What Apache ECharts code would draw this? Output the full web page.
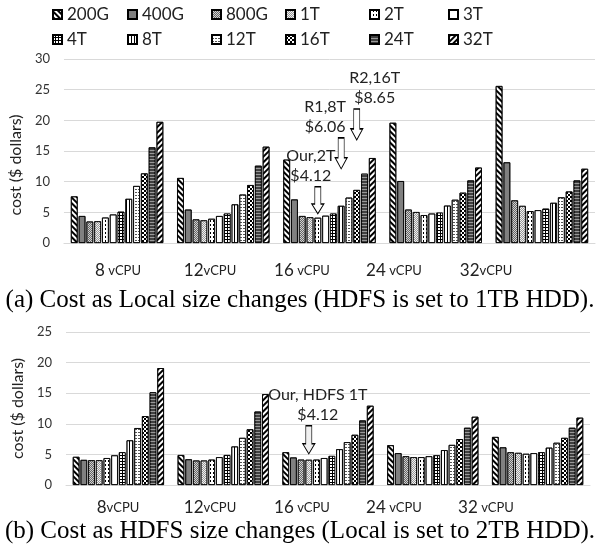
<!DOCTYPE html>
<html>
<head>
<meta charset="utf-8">
<script src="https://cdn.jsdelivr.net/npm/echarts@6/dist/echarts.min.js"></script>
<style>
  html, body { margin: 0; padding: 0; background: #fff; }
  #chart { width: 600px; height: 556px; }
</style>
</head>
<body>
<div id="chart"></div>
<script>
// 数据
var sizes = ['200G', '400G', '800G', '1T', '2T', '3T', '4T', '8T', '12T', '16T', '24T', '32T']
var categories = ['8', '12', '16', '24', '32']
var labelsA = ['8 vCPU', '12vCPU', '16 vCPU', '24 vCPU', '32vCPU']
var labelsB = ['8vCPU', '12vCPU', '16 vCPU', '24 vCPU', '32 vCPU']

// (a) Local size changes, one array per vCPU group, in the order of sizes
var local8 = [7.6, 4.4, 3.5, 3.55, 4.15, 4.65, 5.1, 7.2, 9.3, 11.35, 15.6, 19.75]
var local12 = [10.6, 5.45, 3.85, 3.7, 3.95, 4.4, 4.8, 6.3, 7.9, 9.45, 12.6, 15.7]
var local16 = [13.6, 7.1, 4.4, 4.2, 4.12, 4.45, 4.8, 6.06, 7.4, 8.65, 11.3, 13.85]
var local24 = [19.6, 10.1, 5.45, 5.05, 4.55, 4.8, 4.95, 6.1, 7.05, 8.2, 10.2, 12.3]
var local32 = [25.6, 13.15, 6.95, 6.05, 5.2, 5.35, 5.6, 6.55, 7.45, 8.4, 10.2, 12.1]

// (b) HDFS size changes
var hdfs8 = [4.6, 4.1, 4.05, 4.05, 4.4, 4.85, 5.35, 7.3, 9.3, 11.25, 15.15, 19.1]
var hdfs12 = [4.9, 4.2, 4.0, 4.0, 4.15, 4.55, 4.9, 6.3, 7.7, 9.1, 12.0, 14.85]
var hdfs16 = [5.35, 4.5, 4.15, 4.12, 4.15, 4.4, 4.75, 5.85, 7.0, 8.2, 10.55, 12.95]
var hdfs24 = [6.5, 5.2, 4.7, 4.55, 4.55, 4.7, 4.85, 5.7, 6.55, 7.5, 9.35, 11.15]
var hdfs32 = [7.85, 6.15, 5.35, 5.25, 5.1, 5.2, 5.35, 6.1, 6.9, 7.7, 9.35, 11.0]

var localTicks = [0, 30, 5]
var hdfsTicks = [0, 25, 5]

// 标注: size, group index, value, text
var notesA = [
  { size: '2T', group: 2, value: 4.12, text: 'Our,2T\n$4.12' },
  { size: '8T', group: 2, value: 6.06, text: 'R1,8T\n$6.06' },
  { size: '16T', group: 2, value: 8.65, text: 'R2,16T\n$8.65' },
]
var notesB = [
  { size: '1T', group: 2, value: 4.12, text: 'Our, HDFS 1T\n$4.12' },
]

// 样式 (patterns)
var FONT = 'Lato'
var patterns = {
  '200G': { color: '#fff', decal: { color: '#000', dashArrayX: [1, 0], dashArrayY: [1.5, 1.5], rotation: Math.PI / 4 } },
  '400G': { color: '#808080', decal: null },
  '800G': { color: '#d0d0d0', decal: { color: '#666', symbolSize: 1, dashArrayX: [[1, 1], [0, 1, 1, 0]], dashArrayY: [1, 0] } },
  '1T': { color: '#f0f0f0', decal: { color: '#999', symbolSize: 1, dashArrayX: [[1, 1], [0, 1, 1, 0]], dashArrayY: [1, 0] } },
  '2T': { color: '#fff', decal: { color: '#000', dashArrayX: [1, 2], dashArrayY: [1.5, 1.5] } },
  '3T': { color: '#fff', decal: null },
  '4T': { color: '#000', decal: { color: '#fff', dashArrayX: [2, 1], dashArrayY: [2, 1] } },
  '8T': { color: '#fff', decal: { color: '#000', dashArrayX: [1, 2], dashArrayY: [1, 0] } },
  '12T': { color: '#fff', decal: { color: '#555', dashArrayX: [2, 1], dashArrayY: [1, 1.5] } },
  '16T': { color: '#fff', decal: { color: '#000', dashArrayX: [[2, 2], [0, 2, 2, 0]], dashArrayY: [2, 0] } },
  '24T': { color: '#404040', decal: { color: '#999', dashArrayX: [1, 0], dashArrayY: [1, 2] } },
  '32T': { color: '#fff', decal: { color: '#000', dashArrayX: [1, 0], dashArrayY: [2, 2], rotation: -Math.PI / 4 } },
}
// arrow offsets and label shifts for each note
var noteStyles = {
  'Our,2T\n$4.12': { h: 27, gap: 4, dx: -7, fill: '2T' },
  'R1,8T\n$6.06': { h: 31, gap: 37, dx: -16, fill: '3T' },
  'R2,16T\n$8.65': { h: 31, gap: 50, dx: 18, fill: '16T' },
  'Our, HDFS 1T\n$4.12': { h: 28, gap: 6, dx: 9, fill: '1T' },
}
var ARROW = 'path://M3,0 L9,0 L9,18 L12,18 L6,28 L0,18 L3,18 Z'

function byGroup (groups, i) {
  return groups.map(function (g) { return g[i] })
}

function markFor (notes, size) {
  var list = notes.filter(function (n) { return n.size === size })
  if (!list.length) return undefined
  return {
    silent: true,
    data: list.map(function (n) {
      var st = noteStyles[n.text]
      var p = patterns[st.fill]
      return {
        coord: [n.group, n.value],
        symbol: ARROW,
        symbolSize: [12, st.h],
        symbolOffset: [0, -(st.h / 2 + st.gap)],
        itemStyle: { color: p.color, borderColor: '#000', borderWidth: 1, decal: p.decal || undefined },
        label: {
          show: true,
          position: 'top',
          distance: 0,
          offset: [st.dx, 0],
          formatter: n.text,
          fontFamily: FONT,
          fontSize: 16,
          lineHeight: 20,
          color: '#222',
        },
      }
    }),
  }
}

function makeSeries (groups, notes, axisIndex) {
  return sizes.map(function (s, i) {
    var p = patterns[s]
    return {
      name: s,
      type: 'bar',
      xAxisIndex: axisIndex,
      yAxisIndex: axisIndex,
      barGap: '15%',
      barCategoryGap: '13%',
      itemStyle: {
        color: p.color,
        borderColor: '#000',
        borderWidth: 0.8,
        decal: p.decal || { symbol: 'none' },
      },
      emphasis: { disabled: true },
      data: byGroup(groups, i),
      markPoint: markFor(notes, s),
    }
  })
}

function vcpuLabel (v) {
  var m = v.match(/^(\d+)(\s?)vCPU$/)
  return '{n|' + m[1] + '}' + m[2] + '{u|vCPU}'
}

var richLabel = {
  n: { fontFamily: FONT, fontSize: 17, color: '#222' },
  u: { fontFamily: FONT, fontSize: 13, color: '#222' },
}

function valueAxis (ticks, idx, nameShift) {
  return {
    type: 'value',
    gridIndex: idx,
    min: ticks[0],
    max: ticks[1],
    interval: ticks[2],
    name: 'cost ($ dollars)',
    nameLocation: 'middle',
    nameGap: 31,
    nameTextStyle: { fontFamily: FONT, fontSize: 16, color: '#222', padding: [0, nameShift, 0, 0] },
    axisLine: { show: false },
    axisTick: { show: false },
    axisLabel: { fontFamily: FONT, fontSize: 13, color: '#333', margin: 14 },
    splitLine: { lineStyle: { color: '#d9d9d9', width: 1 } },
  }
}

function barAxis (idx) {
  return {
    type: 'category',
    gridIndex: idx,
    data: categories,
    axisLine: { lineStyle: { color: '#d9d9d9' } },
    axisTick: { show: false },
    axisLabel: { show: false },
  }
}

function labelAxis (idx, labels, margin) {
  return {
    type: 'category',
    gridIndex: idx,
    data: labels,
    axisLine: { show: false },
    axisTick: { show: false },
    axisLabel: { interval: 0, margin: margin, formatter: vcpuLabel, rich: richLabel },
  }
}

var colLeft = [52, 127, 211, 285, 369, 448]
var rowTop = [6, 31]
var legends = sizes.map(function (s, i) {
  return {
    data: [s],
    left: colLeft[i % 6],
    top: rowTop[Math.floor(i / 6)],
    padding: 0,
    icon: 'rect',
    itemWidth: 9,
    itemHeight: 9,
    selectedMode: false,
    textStyle: { fontFamily: FONT, fontSize: 17, color: '#222' },
  }
})

var myChart = echarts.init(document.getElementById('chart'))
var option = {
  animation: false,
  backgroundColor: '#fff',
  legend: legends,
  title: [
    {
      text: '(a) Cost as Local size changes (HDFS is set to 1TB HDD).',
      left: 'center', top: 288, padding: 0,
      textStyle: { fontFamily: 'Liberation Serif', fontSize: 25, fontWeight: 'normal', color: '#000' },
    },
    {
      text: '(b) Cost as HDFS size changes (Local is set to 2TB HDD).',
      left: 'center', top: 519, padding: 0,
      textStyle: { fontFamily: 'Liberation Serif', fontSize: 25, fontWeight: 'normal', color: '#000' },
    },
  ],
  grid: [
    { left: 63, right: 5, top: 59, height: 184 },
    { left: 66, right: 10, top: 332, height: 153 },
    { left: 72, width: 460, top: 59, height: 184 },
    { left: 72, width: 460, top: 332, height: 153 },
  ],
  xAxis: [barAxis(0), barAxis(1), labelAxis(2, labelsA, 19), labelAxis(3, labelsB, 14)],
  yAxis: [
    valueAxis(localTicks, 0, 28),
    valueAxis(hdfsTicks, 1, 0),
    { type: 'value', gridIndex: 2, show: false },
    { type: 'value', gridIndex: 3, show: false },
  ],
  series: makeSeries([local8, local12, local16, local24, local32], notesA, 0)
    .concat(makeSeries([hdfs8, hdfs12, hdfs16, hdfs24, hdfs32], notesB, 1)),
}
myChart.setOption(option)
window.onresize = myChart.resize
</script>
</body>
</html>
